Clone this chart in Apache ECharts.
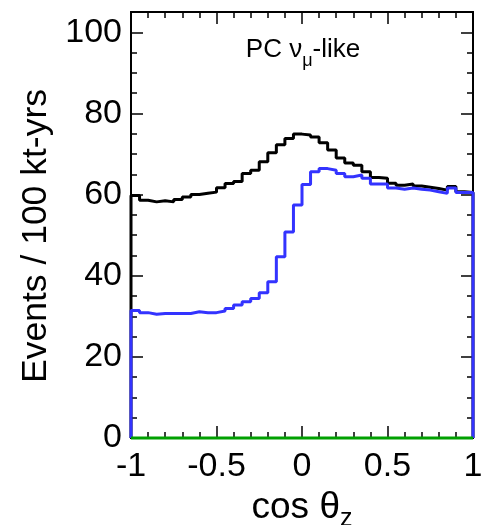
<!DOCTYPE html>
<html><head><meta charset="utf-8">
<script src="https://cdn.jsdelivr.net/npm/echarts@6/dist/echarts.min.js"></script>
<style>html,body{margin:0;padding:0;background:#fff}#c{width:492px;height:525px}</style>
</head><body><div id="c"></div><script>
const binEdges = [-1.00,-0.95,-0.90,-0.85,-0.80,-0.75,-0.70,-0.65,-0.60,-0.55,-0.50,-0.45,-0.40,-0.35,-0.30,-0.25,-0.20,-0.15,-0.10,-0.05,0.00,0.05,0.10,0.15,0.20,0.25,0.30,0.35,0.40,0.45,0.50,0.55,0.60,0.65,0.70,0.75,0.80,0.85,0.90,0.95,1.00];
const blackVals = [59.8,58.6,58.2,58.5,58.2,58.8,59.4,60.0,60.3,60.6,61.7,62.7,63.2,65.2,66.0,68.1,70.3,72.3,73.8,74.9,74.7,74.2,72.8,71.0,69.0,67.8,67.2,65.6,64.2,64.0,62.8,62.3,62.6,62.1,61.8,61.5,61.1,62.0,60.7,60.5];
const blueVals = [31.4,30.9,30.5,30.7,30.7,30.7,30.7,31.1,30.9,30.9,31.3,31.9,32.8,33.6,34.4,35.8,38.5,44.7,50.8,57.4,62.5,65.6,66.4,66.0,65.2,64.4,64.8,64.0,62.6,62.6,61.6,61.3,61.6,61.3,61.1,60.7,60.3,61.6,60.5,60.5];
const greenVals = [0,0,0,0,0,0,0,0,0,0,0,0,0,0,0,0,0,0,0,0,0,0,0,0,0,0,0,0,0,0,0,0,0,0,0,0,0,0,0,0];
const xTicks = [-1,-0.5,0,0.5,1];
const yTicks = [0,20,40,60,80,100];

function stepData(vals){
  const d=[[binEdges[0],0]];
  for(let i=0;i<vals.length;i++){ d.push([binEdges[i],vals[i]],[binEdges[i+1],vals[i]]); }
  d.push([binEdges[binEdges.length-1],0]);
  return d;
}
const FONT = 'Liberation Sans';
const chart = echarts.init(document.getElementById('c'), null, {renderer:'canvas'});
const axLine = {show:true, onZero:false, lineStyle:{color:'#000', width:2}};
const xBase = {type:'value', min:-1, max:1, interval:0.5, splitLine:{show:false}, axisLine:axLine,
  axisTick:{show:true, inside:true, length:12, lineStyle:{color:'#000', width:1.5}},
  minorTick:{show:true, splitNumber:5, length:6, lineStyle:{color:'#000', width:1.5}}};
const yMajor = {type:'value', min:0, max:105, interval:20, splitLine:{show:false}, axisLine:axLine,
  axisTick:{show:true, inside:true, length:12, lineStyle:{color:'#000', width:1.5}}};
const yMinor = {type:'value', min:0, max:105, interval:5, splitLine:{show:false}, axisLine:axLine,
  axisLabel:{show:false}, axisTick:{show:true, inside:true, length:6, lineStyle:{color:'#000', width:1.5}}};
chart.setOption({
  animation:false,
  backgroundColor:'#fff',
  grid:{left:131, right:19, top:12, bottom:87, containLabel:false, outerBoundsMode:'none'},
  title:{text:'{a|PC ν}{s|μ}{a|-like}', left:298, top:32, textAlign:'center',
    textStyle:{rich:{a:{fontFamily:FONT, fontSize:26, fontWeight:'normal', lineHeight:28, verticalAlign:'top', color:'#000'},
                     s:{fontFamily:FONT, fontSize:18, fontWeight:'normal', lineHeight:19, verticalAlign:'top', padding:[15,0,0,0], color:'#000'}}}},
  xAxis:[
    Object.assign({}, xBase, {position:'bottom',
      axisLabel:{show:true, fontFamily:FONT, fontSize:34, color:'#000', margin:12,
        formatter:function(v){ return xTicks.indexOf(v)>=0 ? String(v) : ''; }},
      name:'{a|cos θ}{s|z}', nameLocation:'middle', nameGap:38,
      nameTextStyle:{rich:{a:{fontFamily:FONT, fontSize:37, lineHeight:38, verticalAlign:'top', color:'#000'},
                           s:{fontFamily:FONT, fontSize:25, lineHeight:26, verticalAlign:'top', padding:[18,0,0,0], color:'#000'}}}}),
    Object.assign({}, xBase, {position:'top', axisLabel:{show:false}})
  ],
  yAxis:[
    Object.assign({}, yMajor, {position:'left',
      axisLabel:{show:true, fontFamily:FONT, fontSize:34, color:'#000', margin:9, showMaxLabel:false,
        formatter:function(v){ return yTicks.indexOf(v)>=0 ? String(v) : ''; }},
      name:'Events / 100 kt-yrs', nameLocation:'middle', nameGap:68, nameRotate:90,
      nameTextStyle:{fontFamily:FONT, fontSize:35.5, color:'#000', padding:[0,22,0,0]}}),
    Object.assign({}, yMinor, {position:'left'}),
    Object.assign({}, yMajor, {position:'right', axisLabel:{show:false}}),
    Object.assign({}, yMinor, {position:'right'})
  ],
  series:[
    {type:'line', data:stepData(blackVals), showSymbol:false, clip:false, lineStyle:{color:'#000', width:3}, z:3},
    {type:'line', data:stepData(blueVals), showSymbol:false, clip:false, lineStyle:{color:'#3333ff', width:3}, z:4},
    {type:'line', data:stepData(greenVals), showSymbol:false, clip:false, lineStyle:{color:'#00a000', width:3}, z:5}
  ]
});
</script></body></html>
